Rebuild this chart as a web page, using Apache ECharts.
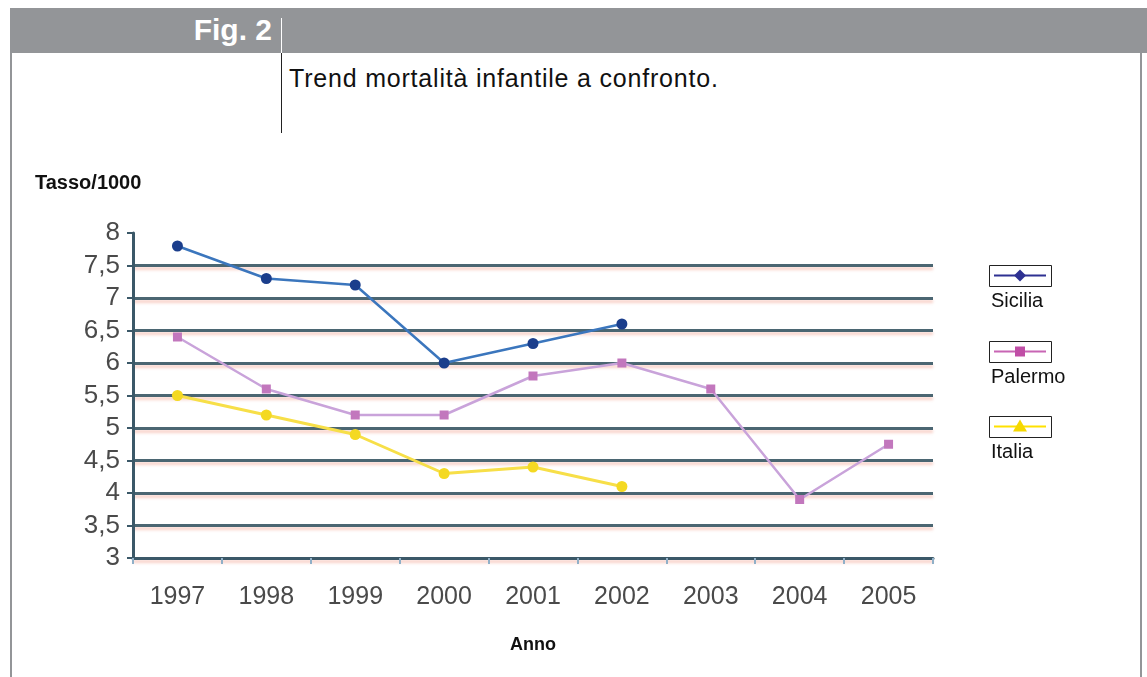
<!DOCTYPE html>
<html>
<head>
<meta charset="utf-8">
<script src="https://cdn.jsdelivr.net/npm/echarts@6/dist/echarts.min.js"></script>
<style>
  html, body { margin: 0; padding: 0; background: #fff; }
  body { width: 1147px; height: 677px; position: relative; overflow: hidden; font-family: 'Liberation Sans', Arial, sans-serif; }
  .hdr { position: absolute; left: 10px; top: 8px; width: 1137px; height: 45px; background: #939598; }
  .fig { position: absolute; right: 875px; top: 9px; color: #fff; font-weight: bold; font-size: 30px; line-height: 42px; }
  .vline-w { position: absolute; left: 281px; top: 18px; width: 1px; height: 35px; background: #fff; }
  .vline-k { position: absolute; left: 281px; top: 53px; width: 1px; height: 80px; background: #222; }
  .bl { position: absolute; left: 10px; top: 53px; width: 2px; height: 624px; background: #939598; }
  .br { position: absolute; left: 1140px; top: 53px; width: 2px; height: 624px; background: #939598; }
  .sub { position: absolute; left: 289px; top: 64px; font-size: 25px; letter-spacing: 0.8px; color: #111; }
  #chart { position: absolute; left: 0; top: 0; width: 1147px; height: 677px; }
</style>
</head>
<body>
<div class="hdr"></div>
<div class="fig">Fig. 2</div>
<div class="vline-w"></div>
<div class="vline-k"></div>
<div class="bl"></div>
<div class="br"></div>
<div class="sub">Trend mortalità infantile a confronto.</div>
<div id="chart"></div>
<script>
const years = ['1997', '1998', '1999', '2000', '2001', '2002', '2003', '2004', '2005'];
const sicilia = [7.8, 7.3, 7.2, 6.0, 6.3, 6.6, null, null, null];
const palermo = [6.4, 5.6, 5.2, 5.2, 5.8, 6.0, 5.6, 3.9, 4.75];
const italia = [5.5, 5.2, 4.9, 4.3, 4.4, 4.1, null, null, null];
const seriesNames = ['Sicilia', 'Palermo', 'Italia'];
const yMin = 3, yMax = 8, yStep = 0.5;

const lineColors = ['#3b76bd', '#c9a3da', '#f7df48'];
const markColors = ['#1b3e8c', '#c277bd', '#f4d922'];
const legendLine = ['#2e3192', '#c865b4', '#ffe100'];
const legendMark = ['#2e3192', '#c04ea6', '#f5d800'];
const symbols = ['circle', 'rect', 'circle'];
const symbolSizes = [11, 9, 11];
const legendSymbols = ['diamond', 'rect', 'triangle'];
const legendTops = [265, 341, 416];

const chart = echarts.init(document.getElementById('chart'));
const data = [sicilia, palermo, italia];
const fmt = (v) => String(v).replace('.', ',');

// legend: small framed sample above each name
const legendItems = [];
seriesNames.forEach((name, i) => {
  const top = legendTops[i];
  const cy = top + 10.5;
  legendItems.push({
    type: 'rect',
    shape: { x: 989.5, y: top + 0.5, width: 62, height: 21 },
    style: { fill: '#fff', stroke: '#222', lineWidth: 1 },
  });
  legendItems.push({
    type: 'line',
    shape: { x1: 994, y1: cy, x2: 1046, y2: cy },
    style: { stroke: legendLine[i], lineWidth: 2 },
  });
  let mark;
  if (legendSymbols[i] === 'diamond') {
    mark = { type: 'polygon', shape: { points: [[1020, cy - 6], [1026, cy], [1020, cy + 6], [1014, cy]] } };
  } else if (legendSymbols[i] === 'rect') {
    mark = { type: 'rect', shape: { x: 1015, y: cy - 5, width: 10, height: 10 } };
  } else {
    mark = { type: 'polygon', shape: { points: [[1020, cy - 7], [1027, cy + 5], [1013, cy + 5]] } };
  }
  mark.style = { fill: legendMark[i] };
  legendItems.push(mark);
  legendItems.push({
    type: 'text', left: 991, top: top + 26,
    style: { text: name, font: '20px "Liberation Sans", Arial, sans-serif', fill: '#111' },
  });
});

chart.setOption({
  animation: false,
  backgroundColor: 'transparent',
  grid: { left: 133, right: 214, top: 233, bottom: 119, containLabel: false },
  xAxis: {
    type: 'category',
    data: years,
    boundaryGap: true,
    name: 'Anno',
    nameLocation: 'middle',
    nameGap: 78,
    nameTextStyle: { fontFamily: 'Liberation Sans', fontWeight: 'bold', fontSize: 18, color: '#111' },
    axisLine: { lineStyle: { color: '#3b5868', width: 3 } },
    axisTick: { show: true, length: 6, lineStyle: { color: '#8fb0c8', width: 2 } },
    axisLabel: { fontFamily: 'Liberation Sans', fontSize: 25, color: '#4a4a4a', margin: 27 },
  },
  yAxis: {
    type: 'value',
    min: yMin, max: yMax, interval: yStep,
    axisLine: { show: true, lineStyle: { color: '#3b5868', width: 3 } },
    axisTick: { show: true, length: 6, lineStyle: { color: '#3b5868', width: 2 } },
    axisLabel: { fontFamily: 'Liberation Sans', fontSize: 26, color: '#4a4a4a', margin: 13, formatter: fmt },
    splitLine: {
      show: true,
      showMaxLine: false,
      lineStyle: {
        color: '#4b6672', width: 3,
        shadowColor: 'rgba(240,150,130,0.45)', shadowBlur: 3, shadowOffsetY: 3,
      },
    },
  },
  graphic: [
    {
      type: 'text', left: 35, top: 173,
      style: { text: 'Tasso/1000', font: 'bold 20px "Liberation Sans", Arial, sans-serif', fill: '#111' },
    },
    ...legendItems,
  ],
  series: seriesNames.map((name, i) => ({
    name,
    type: 'line',
    data: data[i],
    symbol: symbols[i],
    symbolSize: symbolSizes[i],
    showAllSymbol: true,
    itemStyle: { color: markColors[i] },
    lineStyle: { color: lineColors[i], width: i === 2 ? 3 : 2.5 },
    z: 5 - i,
  })),
});
</script>
</body>
</html>
